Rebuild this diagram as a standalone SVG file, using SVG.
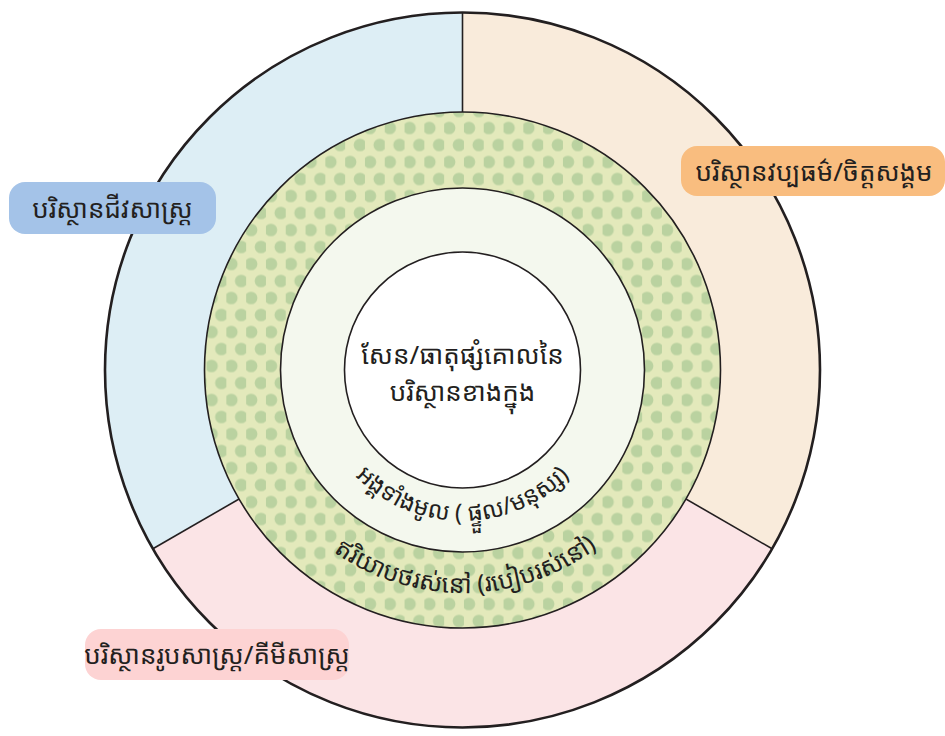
<svg xmlns="http://www.w3.org/2000/svg" width="945" height="736" viewBox="0 0 945 736">
<style>
.km{font-family:"Noto Sans Khmer","Khmer OS","Noto Sans","DejaVu Sans",sans-serif;fill:#231f20}
.lbl{font-size:26px;text-anchor:middle}
.div{stroke:#231f20;stroke-width:1.6;fill:none}
.ring{stroke:#231f20;stroke-width:1.6}
</style>
<defs>
<pattern id="dots" patternUnits="userSpaceOnUse" x="404.55" y="119.5" width="19.8" height="34">
<rect width="19.8" height="34" fill="#e3e9bb"/>
<circle cx="4.95" cy="8.5" r="6.3" fill="#bad2a0"/>
<circle cx="14.85" cy="25.5" r="6.3" fill="#bad2a0"/>
</pattern>
<path id="pInner" d="M311.5,370 A151,151 0 0 0 613.5,370"/>
<path id="pOuter" d="M239.5,370 A223,223 0 0 0 685.5,370"/>
</defs>
<g id="sectors">
<path id="sector-bio" d="M462.5,370 L462.5,12.5 A357.5,357.5 0 0 0 152.9,548.75 Z" fill="#ddeef5"/>
<path id="sector-culture" d="M462.5,370 L462.5,12.5 A357.5,357.5 0 0 1 772.1,548.75 Z" fill="#f9ebdb"/>
<path id="sector-phys" d="M462.5,370 L152.9,548.75 A357.5,357.5 0 0 0 772.1,548.75 Z" fill="#fbe4e6"/>
</g>
<g id="connectors">
<line class="div" x1="462.5" y1="370" x2="462.5" y2="12.5"/>
<line class="div" x1="462.5" y1="370" x2="152.9" y2="548.75"/>
<line class="div" x1="462.5" y1="370" x2="772.1" y2="548.75"/>
</g>
<circle id="outer-border" cx="462.5" cy="370" r="357.5" fill="none" stroke="#231f20" stroke-width="2.6"/>
<g id="ring-lifestyle">
<circle class="ring" cx="462.5" cy="370" r="258" fill="url(#dots)"/>
<text class="km" font-size="25"><textPath href="#pOuter" startOffset="50.5%" text-anchor="middle">ឥរិយាបថរស់នៅ (របៀបរស់នៅ)</textPath></text>
</g>
<g id="ring-whole">
<circle class="ring" cx="462.5" cy="370" r="182" fill="#f4f8ee"/>
<text class="km" font-size="24"><textPath href="#pInner" startOffset="50%" text-anchor="middle">អង្គទាំងមូល ( ផ្ទួល/មនុស្ស)</textPath></text>
</g>
<g id="core">
<circle class="ring" cx="462.5" cy="370" r="118" fill="#ffffff"/>
<text class="km lbl" x="462.5" y="364">សែន/ធាតុផ្សំគោលនៃ</text>
<text class="km lbl" x="462.5" y="401">បរិស្ថានខាងក្នុង</text>
</g>
<g id="label-bio">
<rect x="9" y="182" width="207" height="52" rx="16" fill="#a4c3e8"/>
<text class="km lbl" x="112.5" y="218">បរិស្ថានជីវសាស្ត្រ</text>
</g>
<g id="label-culture">
<rect x="681" y="146" width="264" height="50" rx="16" fill="#f9bd7f"/>
<text class="km lbl" x="814" y="181">បរិស្ថានវប្បធម៌/ចិត្តសង្គម</text>
</g>
<g id="label-phys">
<rect x="85" y="629" width="264" height="51" rx="16" fill="#fdd3d3"/>
<text class="km lbl" x="217" y="664">បរិស្ថានរូបសាស្ត្រ/គីមីសាស្ត្រ</text>
</g>
</svg>
